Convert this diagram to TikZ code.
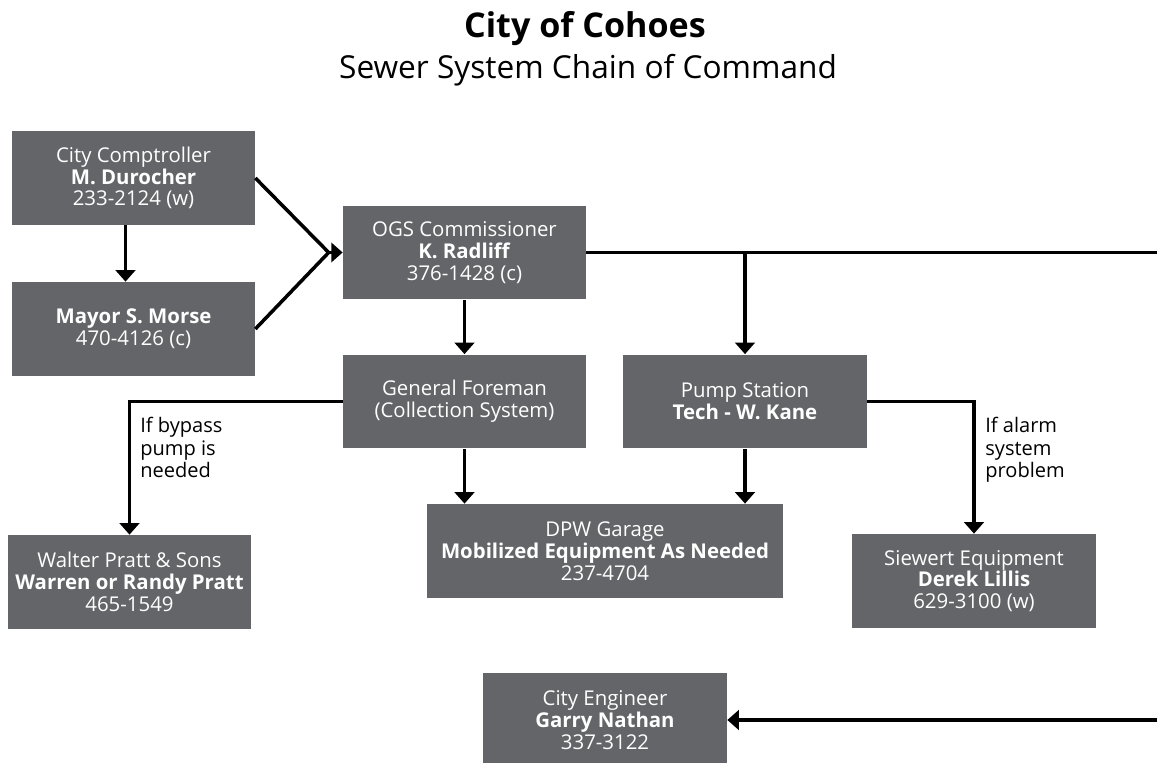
\documentclass[tikz,border=0pt]{standalone}
\usepackage{fontspec}
\setmainfont{Open Sans}
\usetikzlibrary{arrows.meta,calc}
\definecolor{boxgray}{RGB}{100,101,104}
\begin{document}
\begin{tikzpicture}[x=0.02cm, y=-0.02cm,
        unit/.style={fill=boxgray, text=white, align=center, inner sep=0pt,
            minimum width=4.86cm, minimum height=1.88cm,
            font=\fontsize{11.6}{12.4}\selectfont},
        wire/.style={line width=2pt},
        conn/.style={wire, -{Triangle[width=11pt,length=6.5pt]}},
        note/.style={anchor=north west, align=left, inner sep=0pt,
            font=\fontsize{11.4}{12.8}\selectfont}]
    \useasboundingbox (0, 0) rectangle (1157, 763);
    \clip (0, 0) rectangle (1157, 763);

    \node[anchor=base, font=\fontsize{19.4}{22}\selectfont\bfseries] (title) at (585, 38) { City of Cohoes };
    \node[anchor=base, font=\fontsize{18}{20}\selectfont] (subtitle) at (588, 79) { Sewer System Chain of Command };

    \node[unit] (compt) at (133.5, 178) { City Comptroller\\ \textbf{M. Durocher}\\ 233-2124 (w) };
    \node[unit] (mayor) at (133.5, 329) { \textbf{Mayor S. Morse}\\ 470-4126 (c) };
    \node[unit] (ogs) at (464.5, 252.5) { OGS Commissioner\\ \textbf{K. Radliff}\\ 376-1428 (c) };
    \node[unit] (gf) at (464.5, 401.5) { General Foreman\\ (Collection System) };
    \node[unit, minimum width=4.88cm] (pump) at (745, 401.5) { Pump Station\\ \textbf{Tech - W. Kane} };
    \node[unit] (walter) at (129.5, 582) { Walter Pratt \& Sons\\ \textbf{Warren or Randy Pratt}\\ 465-1549 };
    \node[unit, minimum width=7.12cm] (dpw) at (605, 551) { DPW Garage\\ \textbf{Mobilized Equipment As Needed}\\ 237-4704 };
    \node[unit, minimum width=4.88cm] (siewert) at (974, 581) { Siewert Equipment\\ \textbf{Derek Lillis}\\ 629-3100 (w) };
    \node[unit, minimum width=4.88cm] (eng) at (605, 720) { City Engineer\\ \textbf{Garry Nathan}\\ 337-3122 };

    \node[note] (bypass) at (140, 417) { If bypass\\ pump is\\ needed };
    \node[note] (alarm) at (985, 417) { If alarm\\ system\\ problem };

    \coordinate (drop) at ($(compt.south)+(-8, 0)$);
    \coordinate (join) at ($(ogs.west)+(-14, 0)$);
    \coordinate (edge) at (1165, 252.5);

    \draw[conn] (drop) -- (drop |- mayor.north);
    \draw[wire] (compt.east) -- (join);
    \draw[wire] (mayor.east) -- (join);
    \draw[conn] (join) -- (ogs.west);
    \draw[conn] (ogs.east) -- (edge) |- (eng.east);
    \draw[conn] (ogs.east -| pump.north) -- (pump.north);
    \draw[conn] (ogs.south) -- (gf.north);
    \draw[conn] (gf.west) -| (walter.north);
    \draw[conn] (gf.south) -- (gf.south |- dpw.north);
    \draw[conn] (pump.south) -- (pump.south |- dpw.north);
    \draw[conn] (pump.east) -| (siewert.north);
\end{tikzpicture}
\end{document}
